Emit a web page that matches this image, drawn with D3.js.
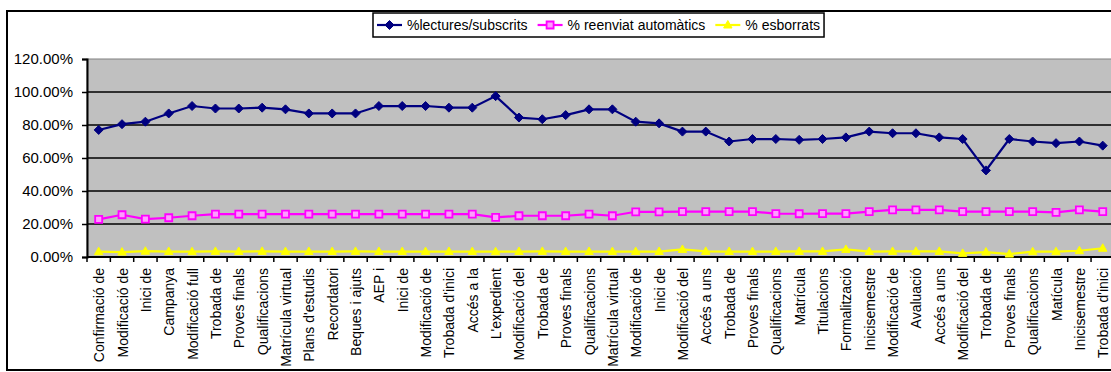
<!DOCTYPE html>
<html>
<head>
<meta charset="utf-8">
<script src="https://cdn.jsdelivr.net/npm/d3@7"></script>
<style>
    body { margin: 0; background: #fff; }
    text { font-family: Arial, "Liberation Sans", sans-serif; fill: #000; }
</style>
</head>
<body>
<div id="chart"></div>
<script>
// category labels along the x axis
const categories = [
    "Confirmació de", "Modificació de", "Inici de", "Campanya", "Modificació full",
    "Trobada de", "Proves finals", "Qualificacions", "Matrícula virtual", "Plans d'estudis",
    "Recordatori", "Beques i ajuts", "AEP i", "Inici de", "Modificació de",
    "Trobada d'inici", "Accés a la", "L'expedient", "Modificació del", "Trobada de",
    "Proves finals", "Qualificacions", "Matrícula virtual", "Modificació de", "Inici de",
    "Modificació del", "Accés a uns", "Trobada de", "Proves finals", "Qualificacions",
    "Matrícula", "Titulacions", "Formalització", "Inicisemestre", "Modificació de",
    "Avaluació", "Accés a uns", "Modificació del", "Trobada de", "Proves finals",
    "Qualificacions", "Matícula", "Inicisemestre", "Trobada d'inici"
];

// series values in percent
const lectures = [77, 80.5, 82, 87, 91.5, 90, 90, 90.5, 89.5, 87, 87, 87, 91.5, 91.5, 91.5,
    90.5, 90.5, 97.5, 84.5, 83.5, 86, 89.5, 89.5, 82, 81, 76, 76, 70, 71.5, 71.5,
    71, 71.5, 72.5, 76, 75, 75, 72.5, 71.5, 52.5, 71.5, 70, 69, 70, 67.5];
const reenviat = [22.8, 25.6, 23, 23.8, 25, 26, 26, 26, 26, 26, 26, 26, 26, 26, 26,
    26, 26, 24, 25, 25, 25, 26, 25, 27.4, 27.4, 27.5, 27.5, 27.5, 27.5, 26.3,
    26.2, 26.3, 26.3, 27.5, 28.6, 28.6, 28.6, 27.5, 27.5, 27.5, 27.5, 27, 28.6, 27.5];
const esborrats = [3.2, 3, 3.5, 3.3, 3.2, 3.4, 3.3, 3.4, 3.3, 3.3, 3.3, 3.4, 3.3, 3.3, 3.3,
    3.3, 3.3, 3.2, 3.3, 3.4, 3.3, 3.3, 3.3, 3.3, 3.3, 4.6, 3.4, 3.3, 3.3, 3.3,
    3.4, 3.4, 4.6, 3.3, 3.4, 3.4, 3.4, 2.2, 3, 1.8, 3.2, 3.2, 3.8, 5.3];

const seriesNames = ["%lectures/subscrits", "% reenviat automàtics", "% esborrats"];
const yTicks = [0, 20, 40, 60, 80, 100, 120];

class LineVis {
    constructor(parentElement) {
        this.parentElement = parentElement;
        this.series = [
            { name: seriesNames[0], values: lectures, color: "#000080", marker: "diamond" },
            { name: seriesNames[1], values: reenviat, color: "#ff00ff", marker: "square" },
            { name: seriesNames[2], values: esborrats, color: "#ffff00", marker: "triangle" }
        ];
        this.initVis();
    }

    initVis() {
        let vis = this;

        vis.width = 1111;
        vis.height = 372;
        vis.plot = { left: 87, top: 59, right: 1114.4, bottom: 257 };

        vis.svg = d3.select(`#${vis.parentElement}`).append("svg")
            .attr("width", vis.width)
            .attr("height", vis.height);

        // outer chart border
        vis.svg.append("rect")
            .attr("x", 7).attr("y", 11)
            .attr("width", 1120).attr("height", 359)
            .attr("fill", "#fff")
            .attr("stroke", "#000")
            .attr("stroke-width", 2);

        // scales
        vis.x = d3.scaleBand()
            .domain(d3.range(categories.length))
            .range([vis.plot.left, vis.plot.right]);

        vis.y = d3.scaleLinear()
            .domain([0, 120])
            .range([vis.plot.bottom, vis.plot.top]);

        // plot area
        vis.svg.append("rect")
            .attr("x", vis.plot.left).attr("y", vis.plot.top)
            .attr("width", vis.plot.right - vis.plot.left)
            .attr("height", vis.plot.bottom - vis.plot.top)
            .attr("fill", "#c0c0c0")
            .attr("stroke", "#808080")
            .attr("stroke-width", 1);

        // horizontal gridlines
        vis.svg.append("g")
            .selectAll("line")
            .data(yTicks.filter(d => d > 0 && d < 120))
            .enter().append("line")
            .attr("x1", vis.plot.left).attr("x2", vis.plot.right)
            .attr("y1", d => vis.y(d)).attr("y2", d => vis.y(d))
            .attr("stroke", "#000")
            .attr("stroke-width", 1.5);

        // y axis
        let yAxis = d3.axisLeft(vis.y)
            .tickValues(yTicks)
            .tickSize(5)
            .tickPadding(9)
            .tickFormat(d => d.toFixed(2) + "%");

        vis.svg.append("g")
            .attr("transform", `translate(${vis.plot.left},0)`)
            .call(yAxis)
            .call(g => g.select(".domain").attr("stroke", "#000").attr("stroke-width", 2))
            .call(g => g.selectAll(".tick line").attr("stroke", "#000").attr("stroke-width", 1.5))
            .call(g => g.selectAll("text")
                .attr("font-size", 15)
                .attr("font-family", "Arial, 'Liberation Sans', sans-serif"));

        // x axis line and ticks between categories
        vis.svg.append("line")
            .attr("x1", vis.plot.left).attr("x2", vis.plot.right)
            .attr("y1", vis.plot.bottom).attr("y2", vis.plot.bottom)
            .attr("stroke", "#000")
            .attr("stroke-width", 2);

        vis.svg.append("g")
            .selectAll("line")
            .data(d3.range(categories.length + 1))
            .enter().append("line")
            .attr("x1", d => vis.plot.left + d * vis.x.step())
            .attr("x2", d => vis.plot.left + d * vis.x.step())
            .attr("y1", vis.plot.bottom)
            .attr("y2", vis.plot.bottom + 5)
            .attr("stroke", "#000")
            .attr("stroke-width", 1.5);

        // rotated category labels
        vis.svg.append("g")
            .selectAll("text")
            .data(categories)
            .enter().append("text")
            .attr("transform", (d, i) =>
                `translate(${vis.x(i) + vis.x.bandwidth() / 2 + 5.5},${vis.plot.bottom + 11}) rotate(-90)`)
            .attr("text-anchor", "end")
            .attr("font-size", 14)
            .text(d => d);

        vis.updateVis();
        vis.drawLegend();
    }

    markerPath(type) {
        if (type === "diamond") return "M0,-4.5L4.5,0L0,4.5L-4.5,0Z";
        if (type === "square") return "M-3.5,-3.5H3.5V3.5H-3.5Z";
        return "M0,-4.5L4.2,3L-4.2,3Z";
    }

    drawMarker(sel, s) {
        let vis = this;
        if (s.marker === "square") {
            sel.attr("d", vis.markerPath(s.marker))
                .attr("fill", "#ff9cff")
                .attr("stroke", s.color)
                .attr("stroke-width", 1.8);
        } else {
            sel.attr("d", vis.markerPath(s.marker))
                .attr("fill", s.color)
                .attr("stroke", s.color)
                .attr("stroke-width", 1);
        }
    }

    updateVis() {
        let vis = this;

        let line = d3.line()
            .x((d, i) => vis.x(i) + vis.x.bandwidth() / 2)
            .y(d => vis.y(d));

        // draw from the bottom series up so the top line stays on top
        vis.series.slice().reverse().forEach(s => {
            let g = vis.svg.append("g").attr("class", "series");

            g.append("path")
                .datum(s.values)
                .attr("d", line)
                .attr("fill", "none")
                .attr("stroke", s.color)
                .attr("stroke-width", 2.2);

            g.selectAll(".marker")
                .data(s.values)
                .enter().append("path")
                .attr("class", "marker")
                .attr("transform", (d, i) => `translate(${vis.x(i) + vis.x.bandwidth() / 2},${vis.y(d)})`)
                .call(sel => vis.drawMarker(sel, s));
        });
    }

    drawLegend() {
        let vis = this;

        let legend = vis.svg.append("g").attr("class", "legend");

        let box = legend.append("rect")
            .attr("x", 373).attr("y", 13)
            .attr("height", 24)
            .attr("fill", "#fff")
            .attr("stroke", "#000")
            .attr("stroke-width", 1.5);

        let xPos = 377;
        vis.series.forEach(s => {
            let item = legend.append("g").attr("transform", `translate(${xPos},25)`);

            item.append("line")
                .attr("x1", 0).attr("x2", 25)
                .attr("stroke", s.color)
                .attr("stroke-width", 2.2);

            item.append("path")
                .attr("transform", "translate(12.5,0)")
                .call(sel => vis.drawMarker(sel, s));

            let label = item.append("text")
                .attr("x", 30)
                .attr("dy", "0.35em")
                .attr("font-size", 14)
                .text(s.name);

            xPos += 30 + label.node().getComputedTextLength() + 10;
        });

        box.attr("width", xPos - 10 + 4 - 373);
    }
}

new LineVis("chart");
</script>
</body>
</html>
